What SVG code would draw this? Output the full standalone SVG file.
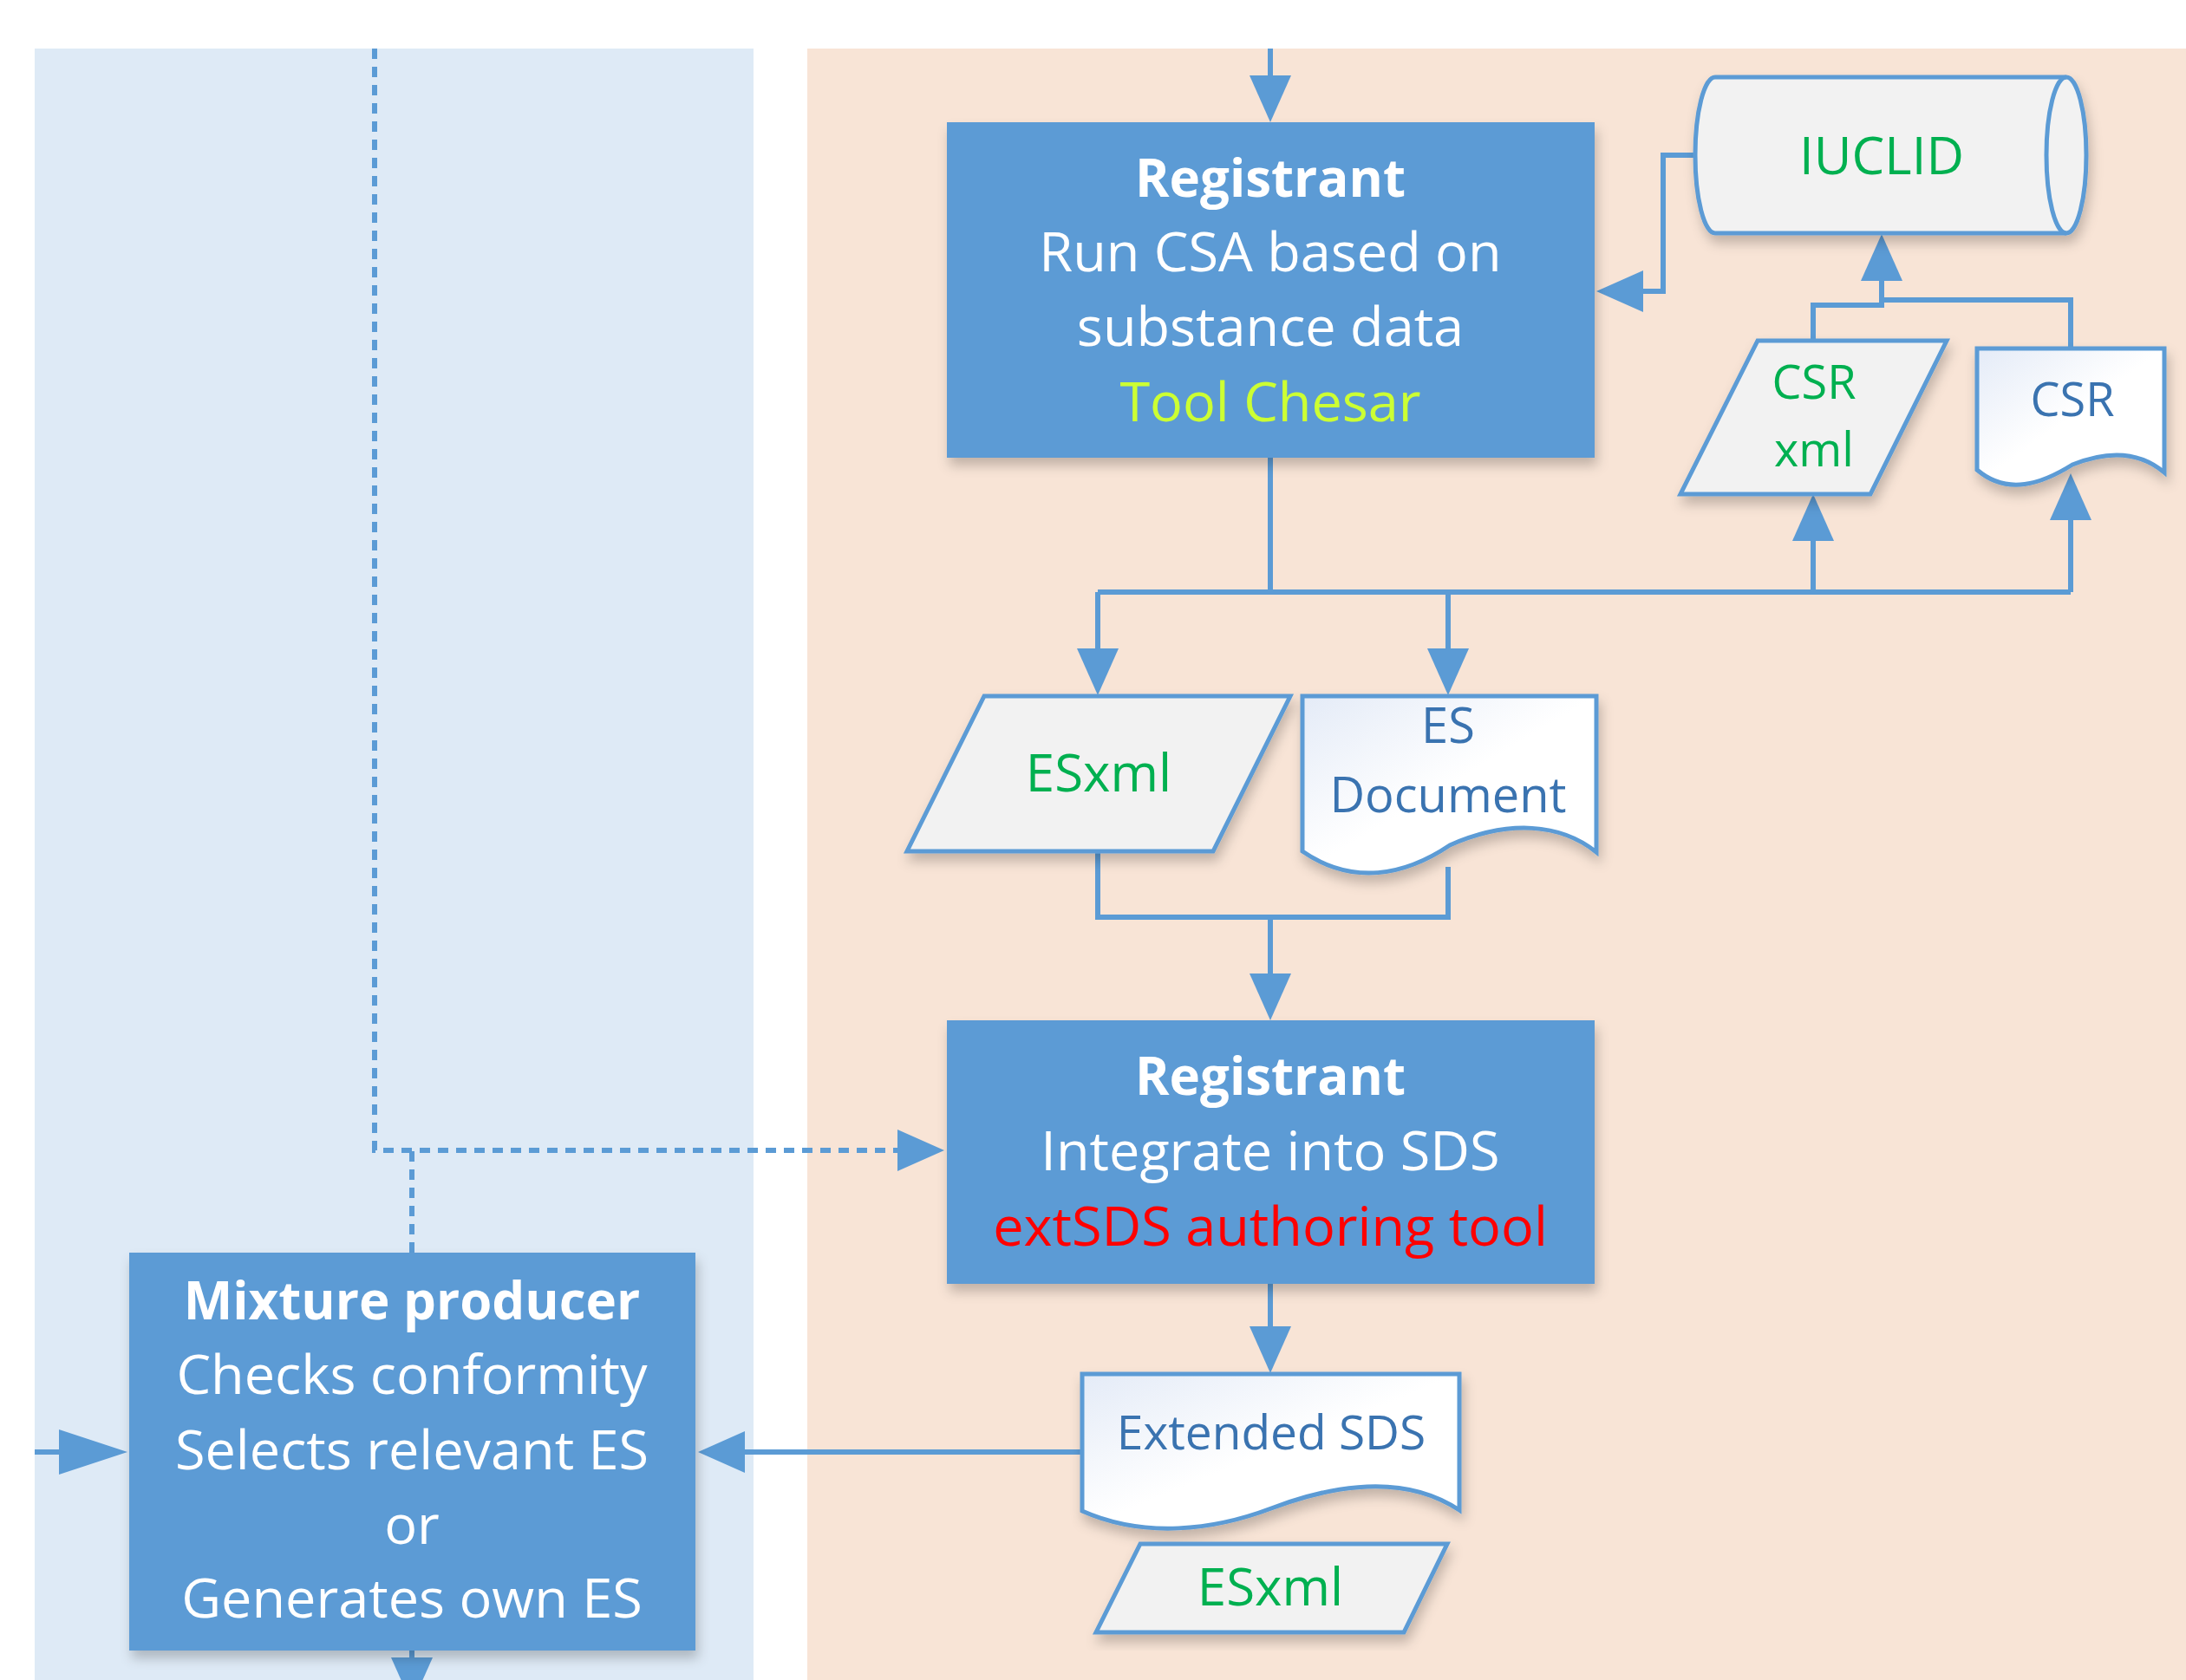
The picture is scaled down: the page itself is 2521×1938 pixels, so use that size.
<svg xmlns="http://www.w3.org/2000/svg" width="2521" height="1938" viewBox="0 0 2521 1938">
  <defs>
    <style>
      .t { font-family: "Open Sans", "Liberation Sans", sans-serif; text-anchor: middle; }
      .box { fill: #5B9BD5; filter: url(#sh); }
      .wt { fill: #FFFFFF; font-size: 63px; }
      .b { font-weight: bold; font-size: 60px; }
      .shape { stroke: #5B9BD5; stroke-width: 5; stroke-linejoin: miter; filter: url(#sh); }
      .para { fill: #F2F2F2; }
      .doc { fill: url(#docg); }
      .green { fill: #00B050; }
      .slate { fill: #3A73B0; }
      .c { fill: none; stroke: #5B9BD5; stroke-width: 6; }
      .dash { fill: none; stroke: #5B9BD5; stroke-width: 6; stroke-dasharray: 12 9; }
    </style>
    <filter id="sh" x="-10%" y="-10%" width="125%" height="130%">
      <feDropShadow dx="3" dy="9" stdDeviation="7" flood-color="#000000" flood-opacity="0.22"/>
    </filter>
    <linearGradient id="docg" x1="0" y1="0" x2="1" y2="1">
      <stop offset="0" stop-color="#E4EBF7"/>
      <stop offset="0.5" stop-color="#FFFFFF"/>
      <stop offset="1" stop-color="#FFFFFF"/>
    </linearGradient>
    <marker id="arr" markerUnits="userSpaceOnUse" markerWidth="54" markerHeight="48" viewBox="0 0 54 48" refX="2" refY="24" orient="auto">
      <path d="M0,0 L54,24 L0,48 Z" fill="#5B9BD5"/>
    </marker>
    <marker id="arrL" markerUnits="userSpaceOnUse" markerWidth="79" markerHeight="52" viewBox="0 0 79 52" refX="2" refY="26" orient="auto">
      <path d="M0,0 L79,26 L0,52 Z" fill="#5B9BD5"/>
    </marker>
  </defs>

  <rect x="0" y="0" width="2521" height="1938" fill="#FFFFFF"/>
  <g id="lanes">
    <rect x="40" y="56" width="829" height="1882" fill="#DEEAF6"/>
    <rect x="931" y="56" width="1590" height="1882" fill="#F8E4D6"/>
  </g>

  <g id="connectors">
    <path class="c" d="M1465,56 V89" marker-end="url(#arr)"/>
    <path class="c" d="M1955,179 H1918 V336 H1893" marker-end="url(#arr)"/>
    <path class="c" d="M2091,393 V352 H2170 V322" marker-end="url(#arr)"/>
    <path class="c" d="M2388,402 V346 H2170"/>
    <path class="c" d="M1465,528 V683"/>
    <path class="c" d="M1266,683 H2388"/>
    <path class="c" d="M1266,683 V750" marker-end="url(#arr)"/>
    <path class="c" d="M1670,683 V750" marker-end="url(#arr)"/>
    <path class="c" d="M2091,683 V622" marker-end="url(#arr)"/>
    <path class="c" d="M2388,683 V598" marker-end="url(#arr)"/>
    <path class="c" d="M1266,982 V1058 H1670 V1000"/>
    <path class="c" d="M1465,1058 V1125" marker-end="url(#arr)"/>
    <path class="dash" d="M432,56 V1327 H1037" marker-end="url(#arr)"/>
    <path class="dash" d="M475,1445 V1327"/>
    <path class="c" d="M1465,1481 V1532" marker-end="url(#arr)"/>
    <path class="c" d="M1248,1675 H857" marker-end="url(#arr)"/>
    <path class="c" d="M40,1675 H70" marker-end="url(#arrL)"/>
    <path class="c" d="M475,1904 V1914" marker-end="url(#arr)"/>
  </g>

  <g id="registrant-csa">
    <rect class="box" x="1092" y="141" width="747" height="387"/>
    <text class="t wt b" x="1465" y="227">Registrant</text>
    <text class="t wt" x="1465" y="313">Run CSA based on</text>
    <text class="t wt" x="1465" y="399">substance data</text>
    <text class="t" x="1465" y="486" font-size="63" fill="#CCFF33">Tool Chesar</text>
  </g>

  <g id="iuclid">
    <path class="shape para" d="M1978,89 H2383 A23,90 0 0 1 2383,269 H1978 A23,90 0 0 1 1978,89 Z"/>
    <path d="M2383,89 A23,90 0 0 0 2383,269" fill="none" stroke="#5B9BD5" stroke-width="5"/>
    <text class="t green" x="2170" y="201" font-size="60">IUCLID</text>
  </g>

  <g id="csr-xml">
    <path class="shape para" d="M2027,393 H2245 L2157,570 H1938 Z"/>
    <text class="t green" x="2092" y="460" font-size="54">CSR</text>
    <text class="t green" x="2092" y="538" font-size="54">xml</text>
  </g>

  <g id="csr-doc">
    <path class="shape doc" d="M2280,402 H2496 V545 C2470,523 2435,518 2390,536 C2355,558 2315,572 2280,542 Z"/>
    <text class="t slate" x="2390" y="480" font-size="54">CSR</text>
  </g>

  <g id="esxml-1">
    <path class="shape para" d="M1135,803 H1488 L1399,982 H1046 Z"/>
    <text class="t green" x="1267" y="913" font-size="60">ESxml</text>
  </g>

  <g id="es-document">
    <path class="shape doc" d="M1502,803 H1841 V983 C1800,950 1740,945 1672,975 C1620,1010 1560,1022 1502,982 Z"/>
    <text class="t slate" x="1670" y="857" font-size="56">ES</text>
    <text class="t slate" x="1670" y="937" font-size="56">Document</text>
  </g>

  <g id="registrant-sds">
    <rect class="box" x="1092" y="1177" width="747" height="304"/>
    <text class="t wt b" x="1465" y="1263">Registrant</text>
    <text class="t wt" x="1465" y="1350">Integrate into SDS</text>
    <text class="t" x="1465" y="1437" font-size="63" fill="#FF0000">extSDS authoring tool</text>
  </g>

  <g id="extended-sds">
    <path class="shape doc" d="M1248,1585 H1683 V1742 C1620,1700 1540,1712 1466,1740 C1400,1765 1320,1775 1248,1743 Z"/>
    <text class="t slate" x="1466" y="1672" font-size="55">Extended SDS</text>
  </g>

  <g id="esxml-2">
    <path class="shape para" d="M1315,1781 H1669 L1619,1883 H1264 Z"/>
    <text class="t green" x="1465" y="1852" font-size="60">ESxml</text>
  </g>

  <g id="mixture-producer">
    <rect class="box" x="149" y="1445" width="653" height="459"/>
    <text class="t wt b" x="475" y="1522">Mixture producer</text>
    <text class="t wt" x="475" y="1608">Checks conformity</text>
    <text class="t wt" x="475" y="1695">Selects relevant ES</text>
    <text class="t wt" x="475" y="1781">or</text>
    <text class="t wt" x="475" y="1866">Generates own ES</text>
  </g>
</svg>
